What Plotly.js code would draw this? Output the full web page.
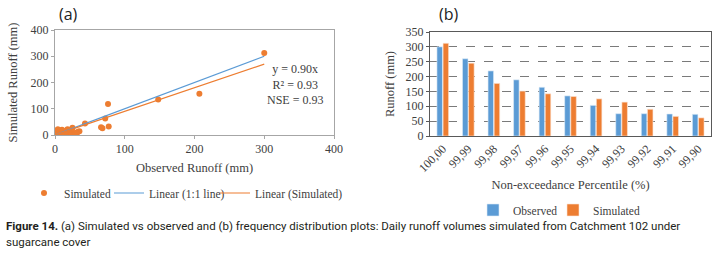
<!DOCTYPE html>
<html>
<head>
<meta charset="utf-8">
<script src="https://cdn.plot.ly/plotly-3.0.1.min.js"></script>
<style>html,body{margin:0;padding:0;background:#fff;}#chart{width:723px;height:256px;}</style>
</head>
<body>
<div id="chart"></div>
<script>
// Panel (a): simulated vs observed daily runoff (mm)
const observedRunoff = [300, 207, 148, 76, 72, 77, 66, 68, 43, 35, 33, 30, 25, 24, 22, 20, 18, 15, 12, 10, 8, 6, 5, 4, 3, 2, 1, 0.5, 0, 14, 28, 17, 9, 26, 31, 3, 7, 11, 1.5, 5, 13, 21, 16];
const simulatedRunoff = [312, 157, 135, 118, 63, 32, 30, 26, 44, 14, 12, 9, 28, 20, 5, 8, 22, 14, 10, 20, 12, 18, 8, 22, 5, 12, 2, 8, 0, 3, 4, 18, 5, 2, 6, 15, 3, 16, 10, 1, 6, 3, 12];
const lineX = [0, 300];
const oneToOneY = [0, 300];
const fitSlope = 0.90;
const fitY = [0, 300 * fitSlope];

// Panel (b): frequency distribution
const percentiles = ['100,00','99,99','99,98','99,97','99,96','99,95','99,94','99,93','99,92','99,91','99,90'];
const observedQ = [300, 260, 219, 189, 164, 135, 103, 75, 75, 74, 73];
const simulatedQ = [312, 245, 177, 151, 142, 133, 125, 114, 90, 66, 61];

const orange = '#ED7D31';
const blue = '#5B9BD5';
const serif = 'Liberation Serif, Times New Roman, serif';
const tickFont = {family: serif, size: 12, color: '#404040'};
const legFont = {family: serif, size: 11.5, color: '#404040'};

const traces = [
  {x: observedRunoff, y: simulatedRunoff, type: 'scatter', mode: 'markers', name: 'Simulated',
   marker: {color: orange, size: 6}, xaxis: 'x', yaxis: 'y', legend: 'legend', showlegend: true},
  {x: lineX, y: oneToOneY, type: 'scatter', mode: 'lines', name: 'Linear (1:1 line)',
   line: {color: blue, width: 1.2}, xaxis: 'x', yaxis: 'y', legend: 'legend3', showlegend: true},
  {x: lineX, y: fitY, type: 'scatter', mode: 'lines', name: 'Linear (Simulated)',
   line: {color: orange, width: 1.2}, xaxis: 'x', yaxis: 'y', legend: 'legend4', showlegend: true},
  {x: percentiles, y: observedQ, type: 'bar', name: 'Observed',
   marker: {color: blue, line: {color: '#DDEBF7', width: 0.6}}, xaxis: 'x2', yaxis: 'y2', legend: 'legend2', showlegend: true},
  {x: percentiles, y: simulatedQ, type: 'bar', name: 'Simulated',
   marker: {color: orange, line: {color: '#FBE5D6', width: 0.6}}, xaxis: 'x2', yaxis: 'y2', legend: 'legend5', showlegend: true}
];

const W = 723, H = 256;
const px = v => v / W, py = v => 1 - v / H;
const leg = (x, y) => ({orientation: 'h', x: px(x), y: py(y), xanchor: 'left', yanchor: 'middle',
  font: legFont, itemwidth: 30, bgcolor: 'rgba(0,0,0,0)', borderwidth: 0, visible: true});

const layout = {
  width: W, height: H,
  margin: {l: 0, r: 0, t: 0, b: 0},
  showlegend: true,
  paper_bgcolor: '#fff', plot_bgcolor: '#fff',
  font: {family: serif, size: 12, color: '#404040'},
  bargap: 0.52, bargroupgap: 0.1,
  xaxis: {domain: [px(55), px(334)], range: [0, 400], dtick: 100, tick0: 0,
    showgrid: false, zeroline: false, showline: true, linecolor: '#A6A6A6', linewidth: 1, mirror: true,
    ticks: 'outside', ticklen: 3, tickcolor: '#A6A6A6', tickfont: tickFont,
    title: {text: 'Observed Runoff (mm)', font: {family: serif, size: 12.5, color: '#404040'}, standoff: 7}},
  yaxis: {domain: [py(135), py(30)], range: [0, 400], dtick: 100, tick0: 0,
    showgrid: false, zeroline: false, showline: true, linecolor: '#A6A6A6', linewidth: 1, mirror: true,
    ticks: 'outside', ticklen: 3, tickcolor: '#A6A6A6', tickfont: tickFont,
    title: {text: 'Simulated Runoff (mm)', font: {family: serif, size: 12.5, color: '#404040'}, standoff: 10}},
  xaxis2: {domain: [px(430), px(711)], anchor: 'y2', type: 'category',
    showgrid: false, zeroline: false, showline: true, linecolor: '#595959', linewidth: 1, mirror: true,
    ticks: '', tickangle: -45, tickfont: tickFont,
    title: {text: 'Non-exceedance Percentile (%)', font: {family: serif, size: 12.5, color: '#404040'}, standoff: 6}},
  yaxis2: {domain: [py(136), py(32)], anchor: 'x2', range: [0, 350], dtick: 50, tick0: 0,
    showgrid: true, gridcolor: '#595959', griddash: 'dash', gridwidth: 0.8,
    zeroline: false, showline: true, linecolor: '#595959', linewidth: 1, mirror: true,
    ticks: 'outside', ticklen: 3, tickcolor: '#595959', tickfont: tickFont,
    title: {text: 'Runoff (mm)', font: {family: serif, size: 12.5, color: '#404040'}, standoff: 8}},
  legend: leg(24, 193),
  legend3: leg(109, 193),
  legend4: leg(215, 193),
  legend2: leg(473, 210),
  legend5: leg(553, 210),
  annotations: [
    {text: '(a)', xref: 'paper', yref: 'paper', x: px(57), y: py(14), xanchor: 'left', yanchor: 'middle',
     showarrow: false, font: {family: 'Open Sans, DejaVu Sans, sans-serif', size: 16, color: '#222'}},
    {text: '(b)', xref: 'paper', yref: 'paper', x: px(437), y: py(14), xanchor: 'left', yanchor: 'middle',
     showarrow: false, font: {family: 'Open Sans, DejaVu Sans, sans-serif', size: 16, color: '#222'}},
    {text: 'y = 0.90x<br>R² = 0.93<br>NSE = 0.93', xref: 'paper', yref: 'paper', x: px(295), y: py(84),
     xanchor: 'center', yanchor: 'middle', align: 'center', showarrow: false,
     font: {family: serif, size: 12, color: '#404040'}},
    {text: '<b>Figure 14.</b> (a) Simulated vs observed and (b) frequency distribution plots: Daily runoff volumes simulated from Catchment 102 under',
     xref: 'paper', yref: 'paper', x: px(4), y: py(226), xanchor: 'left', yanchor: 'middle', align: 'left',
     showarrow: false, font: {family: 'Roboto, sans-serif', size: 11.5, color: '#231F20'}},
    {text: 'sugarcane cover', xref: 'paper', yref: 'paper', x: px(4), y: py(242), xanchor: 'left', yanchor: 'middle', align: 'left',
     showarrow: false, font: {family: 'Roboto, sans-serif', size: 11.5, color: '#231F20'}}
  ]
};

Plotly.newPlot('chart', traces, layout, {displayModeBar: false, staticPlot: true});
</script>
</body>
</html>
